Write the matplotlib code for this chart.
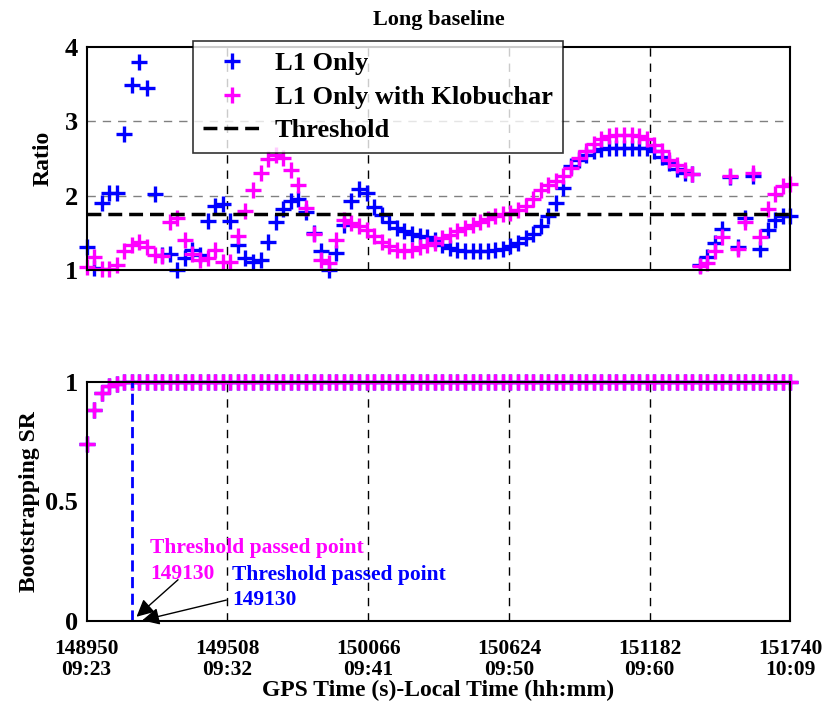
import numpy as np
import matplotlib
matplotlib.use("Agg")
from matplotlib import pyplot as plt

plt.rcParams['font.family'] = ['Liberation Serif', 'DejaVu Serif']
plt.rcParams['font.weight'] = 'bold'

# GPS epochs, 30 s sampling
t0 = 148950
t_end = 151740
gps_time = np.arange(t0, t_end + 1, 30)

# ratio test values (top panel)
ratio_l1 = [1.31, 1.03, 1.90, 2.03, 2.04, 2.83, 3.49, 3.80, 3.45, 2.02,
            1.20, 1.22, 1.00, 1.16, 1.27, 1.20, 1.66, 1.86, 1.89, 1.66,
            1.34, 1.16, 1.11, 1.13, 1.38, 1.65, 1.82, 1.93, 1.95, 1.78,
            1.50, 1.25, 1.00, 1.23, 1.60, 1.93, 2.09, 2.03, 1.85, 1.74,
            1.64, 1.57, 1.52, 1.48, 1.46, 1.44, 1.40, 1.34, 1.29, 1.27,
            1.26, 1.26, 1.26, 1.26, 1.27, 1.28, 1.32, 1.36, 1.43, 1.49,
            1.59, 1.72, 1.90, 2.10, 2.40, 2.48, 2.55, 2.60, 2.63, 2.64,
            2.64, 2.64, 2.64, 2.64, 2.64, 2.60, 2.52, 2.44, 2.36, 2.31,
            2.29, 1.07, 1.17, 1.36, 1.55, 2.25, 1.31, 1.70, 2.27, 1.28,
            1.54, 1.67, 1.72, 1.72]
ratio_klob = [1.04, 1.18, 1.01, 1.01, 1.07, 1.26, 1.34, 1.38, 1.31, 1.20,
              1.19, 1.64, 1.70, 1.40, 1.22, 1.13, 1.16, 1.27, 1.11, 1.11,
              1.46, 1.80, 2.08, 2.30, 2.49, 2.55, 2.50, 2.35, 2.14, 1.83,
              1.48, 1.13, 1.09, 1.41, 1.67, 1.63, 1.59, 1.54, 1.46, 1.37,
              1.32, 1.27, 1.26, 1.27, 1.31, 1.34, 1.36, 1.43, 1.47, 1.52,
              1.57, 1.61, 1.65, 1.68, 1.72, 1.75, 1.76, 1.81, 1.86, 1.95,
              2.08, 2.14, 2.20, 2.27, 2.37, 2.50, 2.60, 2.70, 2.76, 2.80,
              2.81, 2.81, 2.81, 2.80, 2.76, 2.68, 2.60, 2.48, 2.41, 2.34,
              2.29, 1.05, 1.10, 1.25, 1.44, 2.27, 1.28, 1.64, 2.30, 1.44,
              1.82, 2.02, 2.13, 2.16]
threshold = 1.75

# bootstrapping success rate (bottom panel)
sr_head = [0.74, 0.88, 0.95, 0.98, 0.99]
sr_l1 = sr_head + [1.0] * (len(gps_time) - len(sr_head))
sr_klob = sr_head + [1.0] * (len(gps_time) - len(sr_head))
passed_l1 = 149130
passed_klob = 149130

xticks = [148950, 149508, 150066, 150624, 151182, 151740]
xticklabels = ['148950\n09:23', '149508\n09:32', '150066\n09:41',
               '150624\n09:50', '151182\n09:60', '151740\n10:09']

blue = '#0000FF'
mag = '#FF00FF'

fig = plt.figure(figsize=(8.35, 7.06), dpi=100)
ax1 = fig.add_axes([0.1036, 0.6176, 0.8431, 0.3158])
ax2 = fig.add_axes([0.1036, 0.1204, 0.8431, 0.3392])

ax1.plot(gps_time, ratio_l1, '+', color=blue, ms=12, mew=2.4, clip_on=False,
         label='L1 Only')
ax1.plot(gps_time, ratio_klob, '+', color=mag, ms=12, mew=2.4, clip_on=False,
         label='L1 Only with Klobuchar')
ax1.axhline(threshold, color='k', ls='--', lw=2.5, dashes=(4, 2),
            label='Threshold')
ax1.set_xlim(t0, t_end)
ax1.set_ylim(1, 4)
ax1.set_yticks([1, 2, 3, 4])
ax1.set_xticks(xticks)
ax1.set_xticklabels([])
for y in [2, 3]:
    ax1.axhline(y, color='gray', ls='--', lw=1, dashes=(6, 5), zorder=0)
for x in xticks[1:-1]:
    ax1.axvline(x, color='k', ls='--', lw=1, dashes=(6, 5), zorder=0)
ax1.set_ylabel('Ratio', fontsize=17, fontweight='bold', labelpad=8)
ax1.set_title('Long baseline', fontsize=16, fontweight='bold', pad=16)
ax1.tick_params(labelsize=19, length=0, pad=6)
leg = ax1.legend(loc='upper left', bbox_to_anchor=(0.151, 1.025), fontsize=19,
                 frameon=True, fancybox=False, edgecolor='k',
                 handlelength=2.2, handletextpad=0.5, borderpad=0.4,
                 labelspacing=0.38, borderaxespad=0)
leg.get_frame().set_linewidth(1.2)
for s in ax1.spines.values():
    s.set_linewidth(1.5)

ax2.plot(gps_time, sr_l1, '+', color=blue, ms=12, mew=2.4, clip_on=False)
ax2.plot(gps_time, sr_klob, '+', color=mag, ms=12, mew=2.4, clip_on=False)
ax2.plot([passed_l1, passed_l1], [0, 1], color=blue, ls='--', lw=2,
         dashes=(4, 2))
ax2.set_xlim(t0, t_end)
ax2.set_ylim(0, 1)
ax2.set_yticks([0, 0.5, 1])
ax2.set_yticklabels(['0', '0.5', '1'])
ax2.set_xticks(xticks)
ax2.set_xticklabels(xticklabels, fontsize=15.5, linespacing=1.05)
for x in xticks[1:-1]:
    ax2.axvline(x, color='k', ls='--', lw=1, dashes=(6, 5), zorder=0)
ax2.tick_params(axis='y', labelsize=19, length=0, pad=6)
ax2.tick_params(axis='x', length=0, pad=13)
ax2.set_ylabel('Bootstrapping SR', fontsize=17, fontweight='bold')
ax2.set_xlabel('GPS Time (s)-Local Time (hh:mm)', fontsize=17,
               fontweight='bold', labelpad=0)
for s in ax2.spines.values():
    s.set_linewidth(1.5)

# annotations, one text per line
ax2.text(149202, 0.345, 'Threshold passed point', color=mag,
         fontsize=15.5, fontweight='bold', va='top')
ax2.text(149202, 0.240, str(passed_klob), color=mag,
         fontsize=15.5, fontweight='bold', va='top')
ax2.text(149527, 0.235, 'Threshold passed point', color=blue,
         fontsize=15.5, fontweight='bold', va='top')
ax2.text(149527, 0.130, str(passed_l1), color=blue,
         fontsize=15.5, fontweight='bold', va='top')
ax2.annotate('', xy=(passed_klob + 10, 0.01), xytext=(149321, 0.18),
             arrowprops=dict(arrowstyle='-|>', color='k', lw=1,
                             mutation_scale=26))
ax2.annotate('', xy=(passed_l1 + 30, 0.0), xytext=(149515, 0.09),
             arrowprops=dict(arrowstyle='-|>', color='k', lw=1,
                             mutation_scale=26))

plt.savefig('out.png', dpi=100)
